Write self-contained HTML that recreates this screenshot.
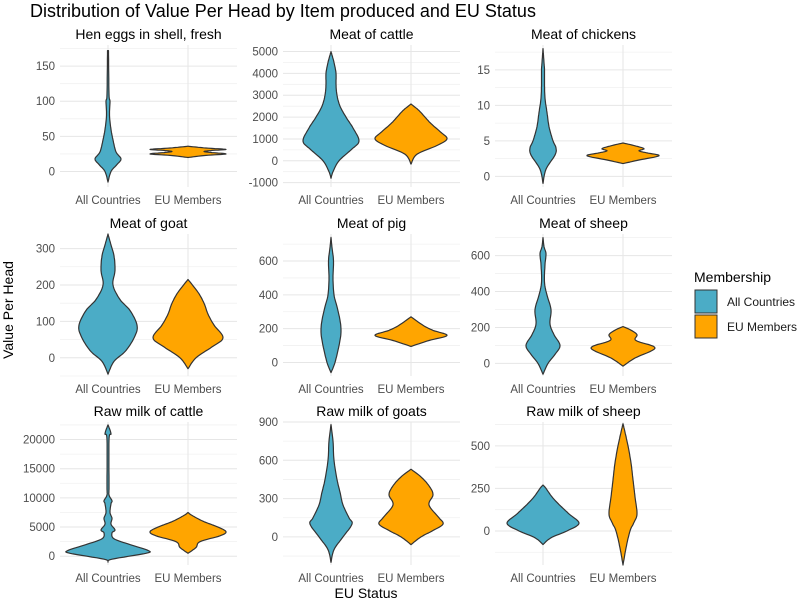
<!DOCTYPE html>
<html><head><meta charset="utf-8"><style>
body{margin:0;background:#fff}
svg{display:block;font-family:"Liberation Sans",Arial,sans-serif}
</style></head><body>
<svg id="chart" width="800" height="600" viewBox="0 0 800 600">
<text x="30" y="17" font-size="18" fill="#000">Distribution of Value Per Head by Item produced and EU Status</text>
<text x="366" y="598" font-size="14" fill="#000" text-anchor="middle">EU Status</text>
<text transform="translate(13,310) rotate(-90)" font-size="14" fill="#000" text-anchor="middle">Value Per Head</text>
<g>
<text x="694" y="282" font-size="14" fill="#000">Membership</text>
<rect x="695" y="290" width="22" height="23" fill="#4BACC6" stroke="#333" stroke-width="1"/>
<text x="727" y="306" font-size="12" fill="#1a1a1a">All Countries</text>
<rect x="695" y="315" width="22" height="23" fill="#FFA500" stroke="#333" stroke-width="1"/>
<text x="727" y="331" font-size="12" fill="#1a1a1a">EU Members</text>
</g>
<g id="panels"></g>
</svg>
<script>
// data: panel titles, y tick labels, violin density profiles [value, half-width]
const panelTitles = ["Hen eggs in shell, fresh","Meat of cattle","Meat of chickens","Meat of goat","Meat of pig","Meat of sheep","Raw milk of cattle","Raw milk of goats","Raw milk of sheep"];
const categories = ["All Countries","EU Members"];
const yTicks = [[0,50,100,150],[-1000,0,1000,2000,3000,4000,5000],[0,5,10,15],[0,100,200,300],[0,200,400,600],[0,200,400,600],[0,5000,10000,15000,20000],[0,300,600,900],[0,250,500]];
const yDomains = [[-22,180],[-1200,5300],[-1.5,18.5],[-50,340],[-80,760],[-70,720],[-1500,23000],[-220,900],[-200,640]];
const allProfiles = [
 [[-15,0],[0,3],[10,9],[18,13],[28,8],[45,5],[60,3],[80,1.5],[100,2],[110,1],[172,0.5]],
 [[-800,0],[-500,2],[0,8],[500,20],[900,28],[1500,22],[2000,15],[2500,9],[3000,6],[3500,5],[4000,5],[4500,3],[5000,0]],
 [[-1,0],[1,3],[3,12],[4,13],[5,10],[7,6],[9,4],[11,2],[13,1.5],[15,1.5],[16,1],[18,0]],
 [[-45,0],[-10,6],[20,18],[60,27],[90,29],[130,22],[160,12],[200,5],[240,7],[280,6],[310,3],[340,0]],
 [[-60,0],[0,4],[100,8],[180,10],[250,9],[330,6],[400,3],[500,2],[600,2.5],[680,1],[740,0]],
 [[-60,0],[0,5],[50,12],[100,17],[160,11],[220,7],[300,8],[380,4],[450,1.5],[550,2],[610,3],[650,1],[700,0]],
 [[-1000,0],[-500,4],[500,38],[1000,40],[2000,22],[3000,6],[4000,4],[4500,7],[5500,3],[6500,4],[7500,2],[9000,3],[9500,4],[10500,1],[12000,1],[20000,1],[21000,3],[22500,0]],
 [[-200,0],[-100,3],[0,12],[100,21],[150,18],[250,12],[350,9],[450,6],[600,3],[750,2],[880,0]],
 [[-80,0],[-40,8],[0,24],[45,36],[100,26],[150,17],[200,9],[250,3],[270,0]]
];
const euProfiles = [
 [[20,0],[23,18],[25,38],[27,24],[28.5,16],[30,24],[31.5,38],[33.5,18],[36,0]],
 [[-150,0],[300,6],[700,26],[1000,36],[1300,30],[1700,20],[2000,14],[2300,8],[2600,0]],
 [[1.8,0],[2.3,16],[2.9,36],[3.3,24],[3.6,16],[3.9,21],[4.3,12],[4.7,0]],
 [[-30,0],[0,8],[30,24],[55,35],[90,26],[120,20],[150,16],[180,10],[215,0]],
 [[95,0],[130,18],[160,36],[190,22],[220,12],[270,0]],
 [[-15,0],[30,12],[85,32],[120,16],[135,12],[160,14],[185,8],[205,0]],
 [[500,0],[1500,8],[2500,12],[3500,32],[4200,38],[5000,30],[6000,15],[7000,4],[7500,0]],
 [[-60,0],[0,10],[50,22],[100,32],[150,28],[250,18],[330,22],[400,18],[470,10],[530,0]],
 [[-200,0],[-100,3],[0,7],[50,11],[100,14],[200,12],[300,10],[400,8],[500,5],[580,2],[630,0]]
];
const colX = [60,283,495];
const rowY = [[45,187],[234,376],[422,565]];
const pw = 177;
const NS = "http://www.w3.org/2000/svg";
const g = document.getElementById("panels");
function mk(tag, attrs, parent){const e=document.createElementNS(NS,tag);for(const k in attrs)e.setAttribute(k,attrs[k]);parent.appendChild(e);return e;}
function smoothSide(pts){
  // Catmull-Rom sampled
  const out=[];
  for(let i=0;i<pts.length-1;i++){
    const p0=pts[Math.max(0,i-1)],p1=pts[i],p2=pts[i+1],p3=pts[Math.min(pts.length-1,i+2)];
    for(let s=0;s<8;s++){
      const t=s/8,t2=t*t,t3=t2*t;
      const f=(a,b,c,d)=>0.5*((2*b)+(-a+c)*t+(2*a-5*b+4*c-d)*t2+(-a+3*b-3*c+d)*t3);
      out.push([f(p0[0],p1[0],p2[0],p3[0]),Math.max(0,f(p0[1],p1[1],p2[1],p3[1]))]);
    }
  }
  out.push(pts[pts.length-1]);
  return out;
}
function violinPath(prof, cx, ys){
  const sm=smoothSide(prof.map(p=>[ys(p[0]),p[1]]));
  const right=sm.map(p=>[cx+p[1],p[0]]);
  const left=sm.map(p=>[cx-p[1],p[0]]).reverse();
  const pts=right.concat(left);
  return "M"+pts.map(p=>p[0].toFixed(1)+","+p[1].toFixed(1)).join("L")+"Z";
}
panelTitles.forEach((t,i)=>{
  const c=i%3, r=Math.floor(i/3);
  const x0=colX[c], y0=rowY[r][0], y1=rowY[r][1];
  const dom=yDomains[i];
  const ys=v=>y1-(v-dom[0])/(dom[1]-dom[0])*(y1-y0);
  const pg=mk("g",{},g);
  
  
  const ticks=yTicks[i], step=ticks[1]-ticks[0];
  for(let v=ticks[0]-step/2; v<=dom[1]; v+=step){
    if(v<dom[0])continue;
    const ln=mk("line",{x1:x0,x2:x0+pw,y1:ys(v),y2:ys(v),stroke:"#f1f1f1","stroke-width":0.8},pg);
    
    
  }
  ticks.forEach(v=>{
    const ln=mk("line",{x1:x0,x2:x0+pw,y1:ys(v),y2:ys(v),stroke:"#e6e6e6","stroke-width":1},pg);
    
    
    const tx=mk("text",{x:x0-5,y:ys(v)+4,"font-size":11.5,fill:"#4d4d4d","text-anchor":"end"},pg);
    tx.textContent=v;
    
    
  });
  const cxs=[x0+48,x0+128];
  cxs.forEach((cx,k)=>{
    const ln=mk("line",{x1:cx,x2:cx,y1:y0,y2:y1,stroke:"#e6e6e6","stroke-width":1},pg);
    
    
    const tx=mk("text",{x:cx,y:y1+17,"font-size":11.5,fill:"#4d4d4d","text-anchor":"middle"},pg);
    tx.textContent=categories[k];
    
    
  });
  const title=mk("text",{x:x0+pw/2,y:y0-6,"font-size":14,fill:"#000","text-anchor":"middle"},pg);
  title.textContent=t;
  
  
  const va=mk("path",{d:violinPath(allProfiles[i],cxs[0],ys),fill:"#4BACC6",stroke:"#333","stroke-width":1.2,"stroke-linejoin":"round"},pg);
  
  
  const ve=mk("path",{d:violinPath(euProfiles[i],cxs[1],ys),fill:"#FFA500",stroke:"#333","stroke-width":1.2,"stroke-linejoin":"round"},pg);
  
  
});
</script>
</body></html>
